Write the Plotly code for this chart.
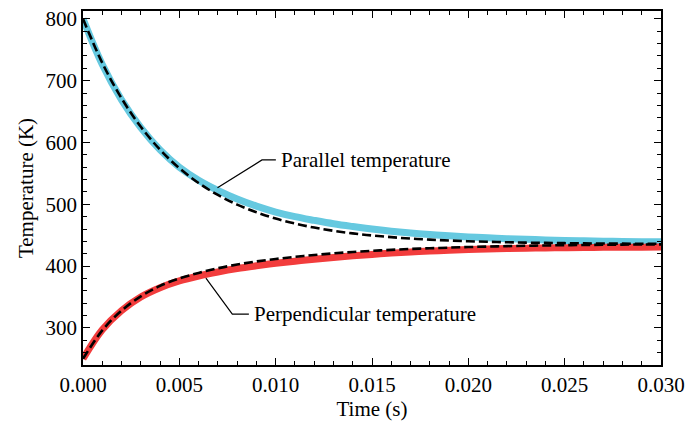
import plotly.graph_objects as go

# time grid (s)
time_s = [0.000, 0.001, 0.002, 0.003, 0.004, 0.005, 0.006, 0.007, 0.008, 0.009,
          0.010, 0.011, 0.012, 0.013, 0.014, 0.015, 0.016, 0.017, 0.018, 0.019,
          0.020, 0.021, 0.022, 0.023, 0.024, 0.025, 0.026, 0.027, 0.028, 0.029,
          0.030]

# simulated parallel temperature (K)
t_parallel = [800, 726, 669, 624, 588, 560, 539, 522.5, 508.5, 497,
              487.5, 480, 474, 468.5, 464, 460, 456.5, 453.5, 451, 449,
              447.2, 445.7, 444.4, 443.3, 442.4, 441.6, 441, 440.4, 439.9, 439.5,
              439.2]

# simulated perpendicular temperature (K)
t_perpendicular = [250, 297, 328, 350, 365, 376, 384, 390.5, 396, 400.5,
                   404.5, 408, 411.2, 414, 416.6, 418.9, 421, 422.8, 424.3, 425.6,
                   426.7, 427.6, 428.3, 428.9, 429.4, 429.8, 430.1, 430.3, 430.5, 430.6,
                   430.7]

# model (dashed) parallel temperature (K)
model_parallel = [800, 728.8, 671.5, 625.4, 588.3, 558.4, 534.4, 515.1, 499.5, 487.0,
                  476.9, 468.9, 462.3, 457.1, 452.9, 449.5, 446.8, 444.5, 442.8, 441.4,
                  440.2, 439.3, 438.6, 437.9, 437.5, 437.1, 436.8, 436.5, 436.3, 436.2,
                  436.0]

# model (dashed) perpendicular temperature (K)
model_perpendicular = [250, 296, 328, 351, 368, 380, 389, 396.5, 402.5, 407.5,
                       411.5, 415, 418, 420.6, 422.8, 424.7, 426.3, 427.7, 428.9, 429.9,
                       430.8, 431.6, 432.3, 432.9, 433.4, 433.8, 434.2, 434.5, 434.8, 435.0,
                       435.2]

x_ticks = [0.0, 0.005, 0.010, 0.015, 0.020, 0.025, 0.030]
y_ticks = [300, 400, 500, 600, 700, 800]

FONT = "Liberation Serif"
CYAN = "#66C9E0"
RED = "#F23C3C"

fig = go.Figure()
fig.add_trace(go.Scatter(x=time_s, y=t_parallel, mode="lines",
                         line=dict(color=CYAN, width=7, shape="spline", smoothing=1.0),
                         showlegend=False))
fig.add_trace(go.Scatter(x=time_s, y=t_perpendicular, mode="lines",
                         line=dict(color=RED, width=7, shape="spline", smoothing=1.0),
                         showlegend=False))
fig.add_trace(go.Scatter(x=time_s, y=model_parallel, mode="lines",
                         line=dict(color="black", width=2.6, dash="9px,4px",
                                   shape="spline", smoothing=1.0),
                         showlegend=False))
fig.add_trace(go.Scatter(x=time_s, y=model_perpendicular, mode="lines",
                         line=dict(color="black", width=2.6, dash="9px,4px",
                                   shape="spline", smoothing=1.0),
                         showlegend=False))

# leader lines for labels
fig.add_trace(go.Scatter(x=[0.00698, 0.00929, 0.01001], y=[526.6, 571.8, 571.8],
                         mode="lines", line=dict(color="black", width=1.2),
                         showlegend=False, hoverinfo="skip"))
fig.add_trace(go.Scatter(x=[0.00638, 0.00775, 0.00861], y=[380.7, 322.3, 322.3],
                         mode="lines", line=dict(color="black", width=1.2),
                         showlegend=False, hoverinfo="skip"))

fig.add_annotation(x=0.01015, y=571.8, text="Parallel temperature", showarrow=False,
                   xanchor="left", yanchor="middle", font=dict(family=FONT, size=21, color="black"))
fig.add_annotation(x=0.00876, y=322.3, text="Perpendicular temperature", showarrow=False,
                   xanchor="left", yanchor="middle", font=dict(family=FONT, size=21, color="black"))

axis_common = dict(showline=True, linecolor="black", linewidth=1.5, mirror="allticks",
                   ticks="inside", ticklen=7, tickwidth=1.3, tickcolor="black",
                   showgrid=False, zeroline=False,
                   tickfont=dict(family=FONT, size=21, color="black"))

fig.update_xaxes(range=[0, 0.03], tickvals=x_ticks, tickformat=".3f",
                 minor=dict(dtick=0.001, ticks="inside", ticklen=4, tickcolor="black", tickwidth=1.2),
                 title=dict(text="Time (s)", font=dict(family=FONT, size=21, color="black"), standoff=4),
                 **axis_common)
fig.update_yaxes(range=[240, 812.7], tickvals=y_ticks,
                 minor=dict(dtick=20, ticks="inside", ticklen=4, tickcolor="black", tickwidth=1.2),
                 title=dict(text="Temperature (K)", font=dict(family=FONT, size=21, color="black"), standoff=6),
                 **axis_common)

fig.update_layout(width=692, height=423, margin=dict(l=83, r=26, t=7, b=56),
                  plot_bgcolor="white", paper_bgcolor="white",
                  font=dict(family=FONT, size=21, color="black"))

fig.write_html("out.html")
